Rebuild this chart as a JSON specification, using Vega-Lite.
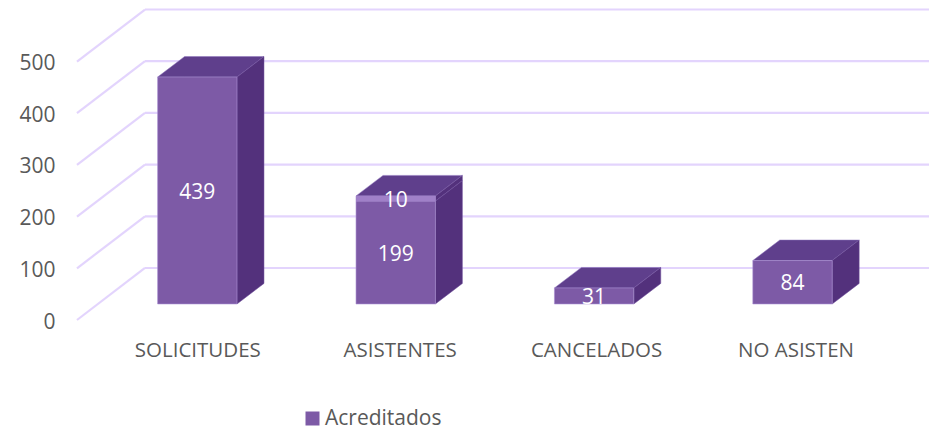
{
"$schema":"https://vega.github.io/schema/vega-lite/v6.json",
"width":852,"height":320,
"autosize":{"type":"none"},
"padding":{"left":77,"top":0,"right":0,"bottom":109},
"background":"white",
"config":{"view":{"stroke":null},"text":{"font":"Open Sans"},"axis":{"labelFont":"Open Sans"},"legend":{"labelFont":"Open Sans"}},
"datasets":{
"barras":[
{"categoria":"SOLICITUDES","valor":439,"tramo":1},
{"categoria":"ASISTENTES","valor":199,"tramo":1},
{"categoria":"ASISTENTES","valor":10,"tramo":2},
{"categoria":"CANCELADOS","valor":31,"tramo":1},
{"categoria":"NO ASISTEN","valor":84,"tramo":1}
],
"rejilla":[{"nivel":0},{"nivel":100},{"nivel":200},{"nivel":300},{"nivel":400},{"nivel":500}]
},
"data":{"name":"barras"},
"transform":[
{"stack":"valor","groupby":["categoria"],"sort":[{"field":"tramo","order":"ascending"}],"as":["v0","v1"]},
{"joinaggregate":[{"op":"max","field":"v1","as":"cima"}],"groupby":["categoria"]},
{"calculate":"indexof(['SOLICITUDES','ASISTENTES','CANCELADOS','NO ASISTEN'],datum.categoria)+1","as":"pos"},
{"calculate":"datum.pos-0.2","as":"xi"},
{"calculate":"datum.pos+0.2","as":"xd"},
{"calculate":"datum.v0+31","as":"b0"},
{"calculate":"datum.v1+31","as":"b1"},
{"calculate":"datum.cima+31","as":"bc"}
],
"encoding":{
"x":{"field":"x","type":"quantitative","scale":{"domain":[0.3936,4.688],"nice":false,"zero":false},
"axis":{"title":null,"grid":false,"domain":false,"ticks":false,"values":[1,2.02,3.01,4.015],"labelExpr":"['SOLICITUDES','ASISTENTES','CANCELADOS','NO ASISTEN'][round(datum.value)-1]","labelFontSize":20.5,"labelColor":"#595959","labelPadding":20,"labelOverlap":false,"labelBound":false,"labelFlush":false}},
"y":{"field":"y","type":"quantitative","scale":{"domain":[0,619],"nice":false,"zero":false},
"axis":{"title":null,"grid":false,"domain":false,"ticks":false,"values":[0,100,200,300,400,500],"labelFontSize":21,"labelColor":"#595959","labelPadding":22,"labelOffset":2,"labelOverlap":false,"labelBound":false}}
},
"layer":[
{"data":{"name":"rejilla"},
"transform":[{"calculate":"0.3936","as":"x"},{"calculate":"0.7363","as":"xf"},{"calculate":"datum.nivel","as":"y"},{"calculate":"datum.nivel+100.6","as":"yf"}],
"mark":{"type":"rule","stroke":"#e3d4fd","strokeWidth":2.2},
"encoding":{"x2":{"field":"xf"},"y2":{"field":"yf"}}},
{"data":{"name":"rejilla"},
"transform":[{"calculate":"0.7363","as":"x"},{"calculate":"4.688","as":"xf"},{"calculate":"datum.nivel+100.6","as":"y"}],
"mark":{"type":"rule","stroke":"#e3d4fd","strokeWidth":2.2},
"encoding":{"x2":{"field":"xf"}}},
{"transform":[{"filter":"datum.v1==datum.cima"},{"calculate":"[0,1,2,3]","as":"k"},{"flatten":["k"]},
{"calculate":"datum.xi+[0,0.136,0.4,0.536][datum.k]","as":"x"},
{"calculate":"datum.bc+(datum.k==3?39.7:0)","as":"y"},
{"calculate":"datum.bc+(datum.k==0?0:39.7)","as":"y2"}],
"mark":{"type":"area","fill":"#5f3f8c","stroke":"#8f74bd","strokeWidth":0.5},
"encoding":{"y2":{"field":"y2"},"detail":{"field":"categoria"}}},
{"transform":[{"calculate":"[0,1]","as":"k"},{"flatten":["k"]},
{"calculate":"datum.xd+datum.k*0.136","as":"x"},
{"calculate":"datum.b0+datum.k*39.7","as":"y"},
{"calculate":"datum.b1+datum.k*39.7","as":"y2"},
{"calculate":"datum.categoria+'-'+datum.tramo","as":"cara"}],
"mark":{"type":"area","fill":"#53317c","stroke":"#6f4f9c","strokeWidth":0.5},
"encoding":{"y2":{"field":"y2"},"detail":{"field":"cara"}}},
{"transform":[{"calculate":"datum.xi","as":"x"},{"calculate":"datum.b0","as":"y"}],
"mark":{"type":"rect","stroke":"#a98fd2","strokeWidth":0.6},
"encoding":{"x2":{"field":"xd"},"y2":{"field":"b1"},
"color":{"datum":"Acreditados","type":"nominal","scale":{"domain":["Acreditados"],"range":["#7d5aa6"]},
"legend":{"title":null,"orient":"none","legendX":225,"legendY":408,"symbolType":"square","symbolSize":196,"symbolStrokeWidth":0,"labelFontSize":21,"labelColor":"#595959","labelOffset":2}}}},
{"transform":[{"filter":"datum.tramo==2"},{"calculate":"datum.xi","as":"x"},{"calculate":"datum.b0","as":"y"}],
"mark":{"type":"rect","fill":"#a080c8"},
"encoding":{"x2":{"field":"xd"},"y2":{"field":"b1"}}},
{"transform":[{"calculate":"datum.pos","as":"x"},{"calculate":"(datum.b0+datum.b1)/2","as":"y"}],
"mark":{"type":"text","color":"white","fontSize":21,"baseline":"middle","align":"center","dy":2},
"encoding":{"text":{"field":"valor","type":"quantitative"}}}
]
}
